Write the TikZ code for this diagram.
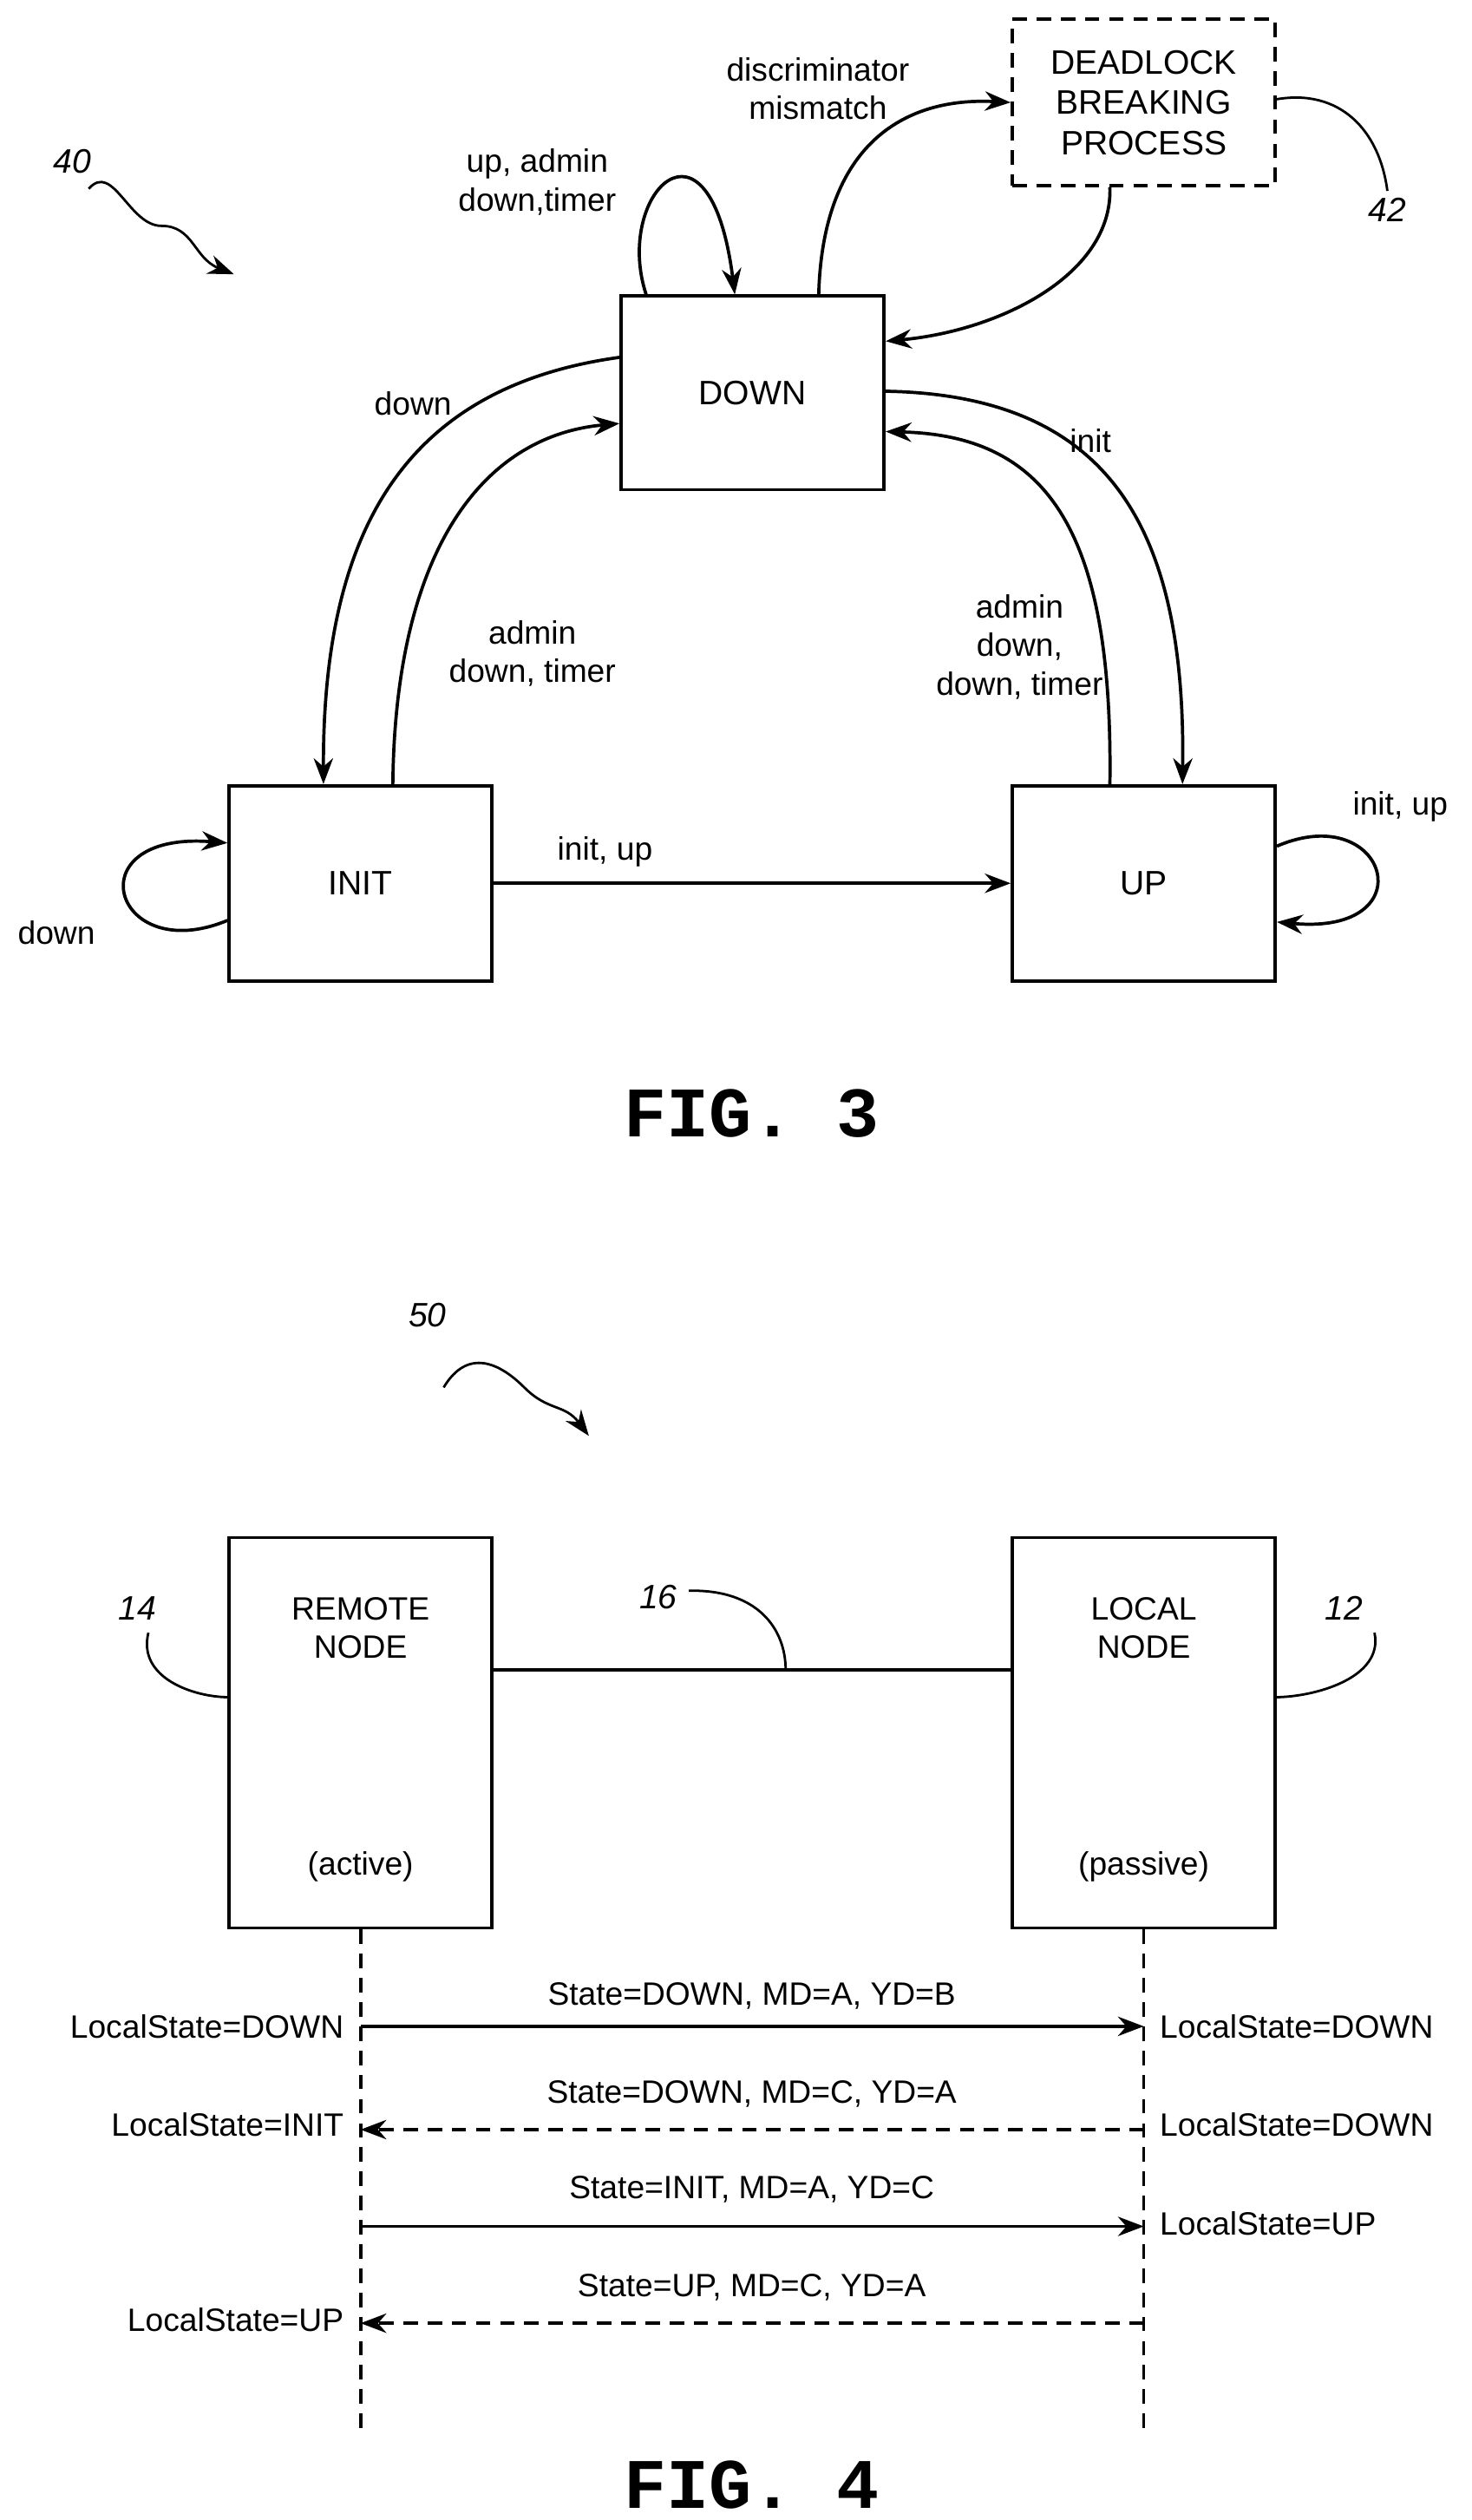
\documentclass[tikz,border=0pt]{standalone}
\usepackage{fontspec}
\setmainfont{Liberation Sans}
\setmonofont{Liberation Mono}
\usetikzlibrary{arrows.meta}
\begin{document}
\begin{tikzpicture}[x=1pt,y=-1pt,line width=2pt,
 box/.style={draw,minimum width=163pt,minimum height=120pt,inner sep=0pt,align=center,font=\fontsize{21}{25}\selectfont},
 lab/.style={font=\fontsize{20}{24}\selectfont,align=center,inner sep=1pt},
 num/.style={font=\fontsize{21}{25}\selectfont\itshape},
 fig/.style={font=\fontsize{44}{48}\selectfont\bfseries\ttfamily},
 arr/.style={-{Stealth[length=16pt,width=12pt]}},
 dsh/.style={dash pattern=on 9pt off 6pt}]
\useasboundingbox (0,0) rectangle (912,1562);
% FIG 3
\node[box] (down) at (466.5,243.5) {DOWN};
\node[box,dsh,minimum height=103pt] (dl) at (709,63.5) {DEADLOCK\\BREAKING\\PROCESS};
\node[box,minimum height=121pt] (init) at (223.5,547.5) {INIT};
\node[box,minimum height=121pt] (up) at (709,547.5) {UP};
\node[fig] (f3) at (466,690) {FIG. 3};
\node[num] (n40) at (45,100) {40};
\coordinate (a40) at (145,170);
\draw[arr,line width=1.5pt] (55,117) .. controls (70,100) and (80,140) .. (100,140) .. controls (120,140) and (120,160) .. (a40);
\node[num] (n42) at (860,130) {42};
\draw[line width=1.5pt] (dl.east) ++(0,-2) .. controls (830,55) and (855,80) .. (n42.north);
\draw[arr] ([xshift=-66pt]down.north) .. controls (380,120) and (440,60) .. ([xshift=-11pt]down.north);
\node[lab] (l1) at (333,113) {up, admin\\down,timer};
\draw[arr] ([xshift=41pt]down.north) .. controls (510,90) and (560,60) .. (dl.west);
\node[lab] (l2) at (507,55) {discriminator\\mismatch};
\draw[arr] ([xshift=-21pt]dl.south) .. controls (690,170) and (620,205) .. ([yshift=32pt]down.east);
\draw[arr] ([yshift=22pt]down.west) .. controls (250,240) and (200,330) .. ([xshift=-23pt]init.north);
\node[lab] (l3) at (256,250) {down};
\draw[arr] ([xshift=20pt]init.north) .. controls (245,340) and (300,270) .. ([yshift=-19pt]down.west);
\node[lab] (l4) at (330,405) {admin\\down, timer};
\draw[arr] ([yshift=1pt]down.east) .. controls (690,245) and (735,330) .. ([xshift=24pt]up.north);
\node[lab] (l5) at (676,273) {init};
\draw[arr] ([xshift=-21pt]up.north) .. controls (690,330) and (650,270) .. ([yshift=-24pt]down.east);
\node[lab] (l6) at (632,401) {admin\\down,\\down, timer};
\draw[arr] (init.east) -- (up.west);
\node[lab] (l7) at (375,528) {init, up};
\draw[arr] ([yshift=-23pt]init.west) .. controls (70,600) and (45,515) .. ([yshift=25pt]init.west);
\node[lab] (l8) at (35,578) {down};
\draw[arr] ([yshift=23pt]up.east) .. controls (860,495) and (885,580) .. ([yshift=-24pt]up.east);
\node[lab] (l9) at (868,500) {init, up};
% FIG 4
\node[num] (n50) at (265,815) {50};
\draw[arr,line width=1.5pt] (275,860) .. controls (290,835) and (310,845) .. (325,860) .. controls (340,875) and (350,870) .. (365,890);
\node[box,minimum height=242pt] (rem) at (223.5,1074) {};
\node[box,minimum height=242pt] (loc) at (709,1074) {};
\node[lab] (t1) at (223.5,1009) {REMOTE\\NODE};
\node[lab] (t2) at (223.5,1157) {(active)};
\node[lab] (t3) at (709,1009) {LOCAL\\NODE};
\node[lab] (t4) at (709,1157) {(passive)};
\draw (rem.east |- 0,1035) -- (loc.west |- 0,1035);
\node[num] (n16) at (408,990) {16};
\draw[line width=1.5pt] (427,986) .. controls (470,985) and (487,1010) .. (487,1035);
\node[num] (n14) at (85,997) {14};
\draw[line width=1.5pt] (92,1012) .. controls (85,1040) and (120,1052) .. (142,1052);
\node[num] (n12) at (833,997) {12};
\draw[line width=1.5pt] (852,1012) .. controls (858,1040) and (815,1052) .. (790,1052);
\coordinate (rb) at (223.5,1510); \coordinate (lb) at (709,1510);
\draw[dsh] (rem.south) -- (rb);
\draw[dsh] (loc.south) -- (lb);
\coordinate (r1) at (223.5,1256); \coordinate (q1) at (709,1256);
\coordinate (r2) at (223.5,1320); \coordinate (q2) at (709,1320);
\coordinate (r3) at (223.5,1380); \coordinate (q3) at (709,1380);
\coordinate (r4) at (223.5,1440); \coordinate (q4) at (709,1440);
\draw[arr] (r1) -- (q1);
\draw[arr,dsh] (q2) -- (r2);
\draw[arr] (r3) -- (q3);
\draw[arr,dsh] (q4) -- (r4);
\node[lab] (m1) at (466,1237) {State=DOWN, MD=A, YD=B};
\node[lab] (m2) at (466,1298) {State=DOWN, MD=C, YD=A};
\node[lab] (m3) at (466,1357) {State=INIT, MD=A, YD=C};
\node[lab] (m4) at (466,1418) {State=UP, MD=C, YD=A};
\node[lab,anchor=east] (s1) at (215,1256) {LocalState=DOWN};
\node[lab,anchor=east] (s2) at (215,1317) {LocalState=INIT};
\node[lab,anchor=east] (s4) at (215,1438) {LocalState=UP};
\node[lab,anchor=west] (p1) at (717,1256) {LocalState=DOWN};
\node[lab,anchor=west] (p2) at (717,1317) {LocalState=DOWN};
\node[lab,anchor=west] (p3) at (717,1378) {LocalState=UP};
\node[fig] (f4) at (466,1540) {FIG. 4};
\end{tikzpicture}
\end{document}
